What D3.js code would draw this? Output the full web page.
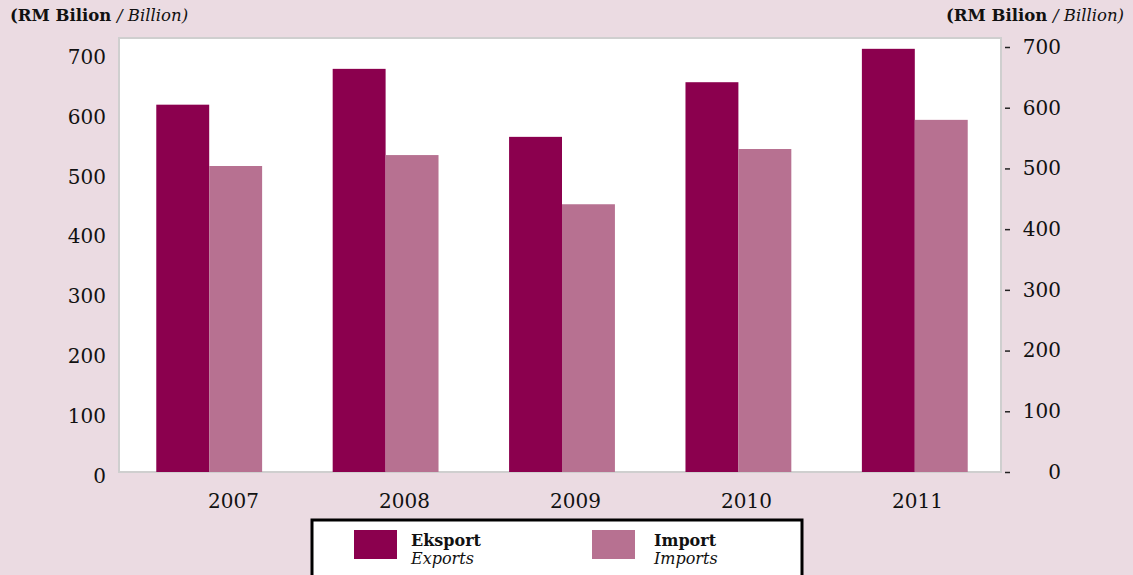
<!DOCTYPE html>
<html>
<head>
<meta charset="utf-8">
<script src="https://cdn.jsdelivr.net/npm/d3@7"></script>
<style>
  body { margin: 0; background: #ebdbe2; }
  svg { display: block; }
  text { font-family: 'DejaVu Serif', serif; fill: #111; }
</style>
</head>
<body>
<div id="chart"></div>
<script>
// data (RM billion)
var years = ['2007', '2008', '2009', '2010', '2011']
var exports = [605, 664, 552, 642, 697]
var imports = [504, 522, 441, 532, 580]
var tickValues = [0, 100, 200, 300, 400, 500, 600, 700]

var width = 1133
var height = 575
var plot = { left: 119, right: 1001, top: 38, bottom: 472 }

var svg = d3
  .select('#chart')
  .append('svg')
  .attr('width', width)
  .attr('height', height)

svg.append('rect')
  .attr('width', width)
  .attr('height', height)
  .attr('fill', '#ebdbe2')

// plot area
svg.append('rect')
  .attr('x', plot.left)
  .attr('y', plot.top)
  .attr('width', plot.right - plot.left)
  .attr('height', plot.bottom - plot.top)
  .attr('fill', '#fff')
  .attr('stroke', '#cfcfcf')
  .attr('stroke-width', 2)

// groups sit a touch right of centre in the original
var x = d3.scaleBand()
  .domain(years)
  .range([plot.left + 2, plot.right + 2])
  .paddingInner(0.4)
  .paddingOuter(0.2)

var xSub = d3.scaleBand()
  .domain(['exp', 'imp'])
  .range([0, x.bandwidth()])

// bars + right axis share this scale
var y = d3.scaleLinear().domain([0, 700]).range([plot.bottom, 47])
// left labels sit a bit off the bar scale in the original
var yLeft = d3.scaleLinear().domain([0, 700]).range([476, 57])
// year labels are spaced a little tighter than the groups
var xLabel = d3.scalePoint().domain(years).range([233, 917])

var series = [
  { key: 'exp', values: exports, color: '#8b004e' },
  { key: 'imp', values: imports, color: '#b77191' }
]

series.forEach(s => {
  svg.append('g')
    .selectAll('rect')
    .data(years)
    .enter()
    .append('rect')
    .attr('x', d => x(d) + xSub(s.key))
    .attr('y', (d, i) => y(s.values[i]))
    .attr('width', xSub.bandwidth())
    .attr('height', (d, i) => plot.bottom - y(s.values[i]))
    .attr('fill', s.color)
})

// left axis: labels only
var leftAxis = svg.append('g')
  .attr('transform', 'translate(106,0)')
  .call(d3.axisLeft(yLeft).tickValues(tickValues).tickSize(0).tickPadding(0))
leftAxis.select('.domain').remove()
leftAxis.selectAll('text').attr('font-size', 20).attr('font-family', null)

// right axis: small dashes + right-aligned labels
var rightAxis = svg.append('g')
  .attr('transform', 'translate(1005,0)')
  .call(d3.axisRight(y).tickValues(tickValues).tickSize(5))
rightAxis.select('.domain').remove()
rightAxis.selectAll('.tick line').attr('stroke', '#222').attr('stroke-width', 1.5)
rightAxis.selectAll('.tick text')
  .attr('x', 56)
  .attr('text-anchor', 'end')
  .attr('font-size', 20)
  .attr('font-family', null)

// x labels
var xAxis = svg.append('g')
  .attr('transform', 'translate(0,' + plot.bottom + ')')
  .call(d3.axisBottom(xLabel).tickSize(0).tickPadding(22))
xAxis.select('.domain').remove()
xAxis.selectAll('text').attr('font-size', 20).attr('font-family', null)

// unit titles
function unitTitle (xPos, anchor) {
  var t = svg.append('text')
    .attr('x', xPos)
    .attr('y', 21)
    .attr('text-anchor', anchor)
    .attr('font-size', 16.5)
  t.append('tspan').attr('font-weight', 'bold').text('(RM Bilion ')
  t.append('tspan').attr('font-style', 'italic').text('/ Billion)')
}
unitTitle(10, 'start')
unitTitle(1124, 'end')

// legend
var legend = svg.append('g')
legend.append('rect')
  .attr('x', 312)
  .attr('y', 520)
  .attr('width', 490)
  .attr('height', 80)
  .attr('fill', '#fff')
  .attr('stroke', '#000')
  .attr('stroke-width', 3)

var legendItems = [
  { name: 'Eksport', en: 'Exports', color: '#8b004e', x: 354, tx: 411 },
  { name: 'Import', en: 'Imports', color: '#b77191', x: 592, tx: 654 }
]
legendItems.forEach(d => {
  legend.append('rect')
    .attr('x', d.x)
    .attr('y', 530)
    .attr('width', 43)
    .attr('height', 29)
    .attr('fill', d.color)
  legend.append('text')
    .attr('x', d.tx)
    .attr('y', 546)
    .attr('font-size', 16)
    .attr('font-weight', 'bold')
    .text(d.name)
  legend.append('text')
    .attr('x', d.tx)
    .attr('y', 564)
    .attr('font-size', 16)
    .attr('font-style', 'italic')
    .text(d.en)
})
</script>
</body>
</html>
